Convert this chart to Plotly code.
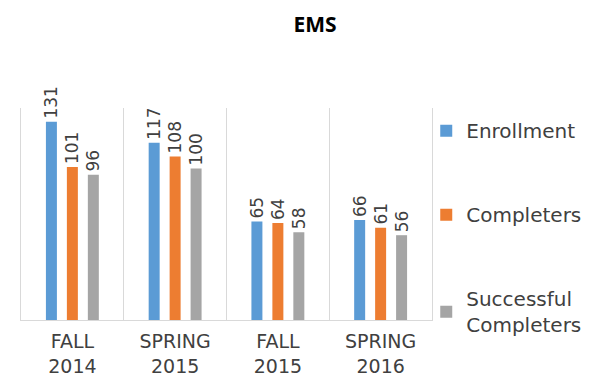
import plotly.graph_objects as go

categories = ["FALL<br>2014", "SPRING<br>2015", "FALL<br>2015", "SPRING<br>2016"]
enrollment = [131, 117, 65, 66]
completers = [101, 108, 64, 61]
successful = [96, 100, 58, 56]

series = [
    ("Enrollment", enrollment, "#5B9BD5"),
    ("Completers", completers, "#ED7D31"),
    ("Successful<br>Completers", successful, "#A5A5A5"),
]

FONT = "DejaVu Sans"
fig = go.Figure()
for i, (name, vals, color) in enumerate(series):
    fig.add_trace(go.Bar(
        x=categories, y=vals, name=name,
        marker=dict(color=color, line=dict(width=0)),
        text=[str(v) for v in vals], textposition="outside", textangle=-90,
        constraintext="none",
        textfont=dict(family=FONT, size=17, color="#404040"),
        cliponaxis=False, legendgroup=str(i),
    ))

fig.update_layout(
    width=614, height=381,
    paper_bgcolor="white", plot_bgcolor="white",
    margin=dict(l=13, r=190, t=100, b=66),
    barmode="group", bargap=0.388, bargroupgap=0.476,
    title=dict(text="<b>EMS</b>", x=0.5, xref="container", xanchor="center", y=0.975, yanchor="top",
               font=dict(family="Open Sans", size=21, color="#000000")),
    showlegend=True,
    legend=dict(x=0.986, xanchor="left", y=0.985, yanchor="top", tracegroupgap=55,
                maxheight=381,
                font=dict(family=FONT, size=20, color="#404040"),
                itemwidth=30, bgcolor="rgba(0,0,0,0)"),
    uniformtext=dict(mode=False),
)
fig.update_xaxes(
    type="category", tickson="boundaries", showgrid=True, gridcolor="#D9D9D9", gridwidth=1,
    showline=True, linecolor="#D9D9D9", linewidth=1, ticks="", ticklabelstandoff=4,
    tickfont=dict(family=FONT, size=19, color="#404040"),
)
fig.update_yaxes(range=[0, 140], showgrid=False, showticklabels=False, zeroline=False,
                 showline=True, linecolor="#D9D9D9", mirror=True)

fig.write_html("out.html")
